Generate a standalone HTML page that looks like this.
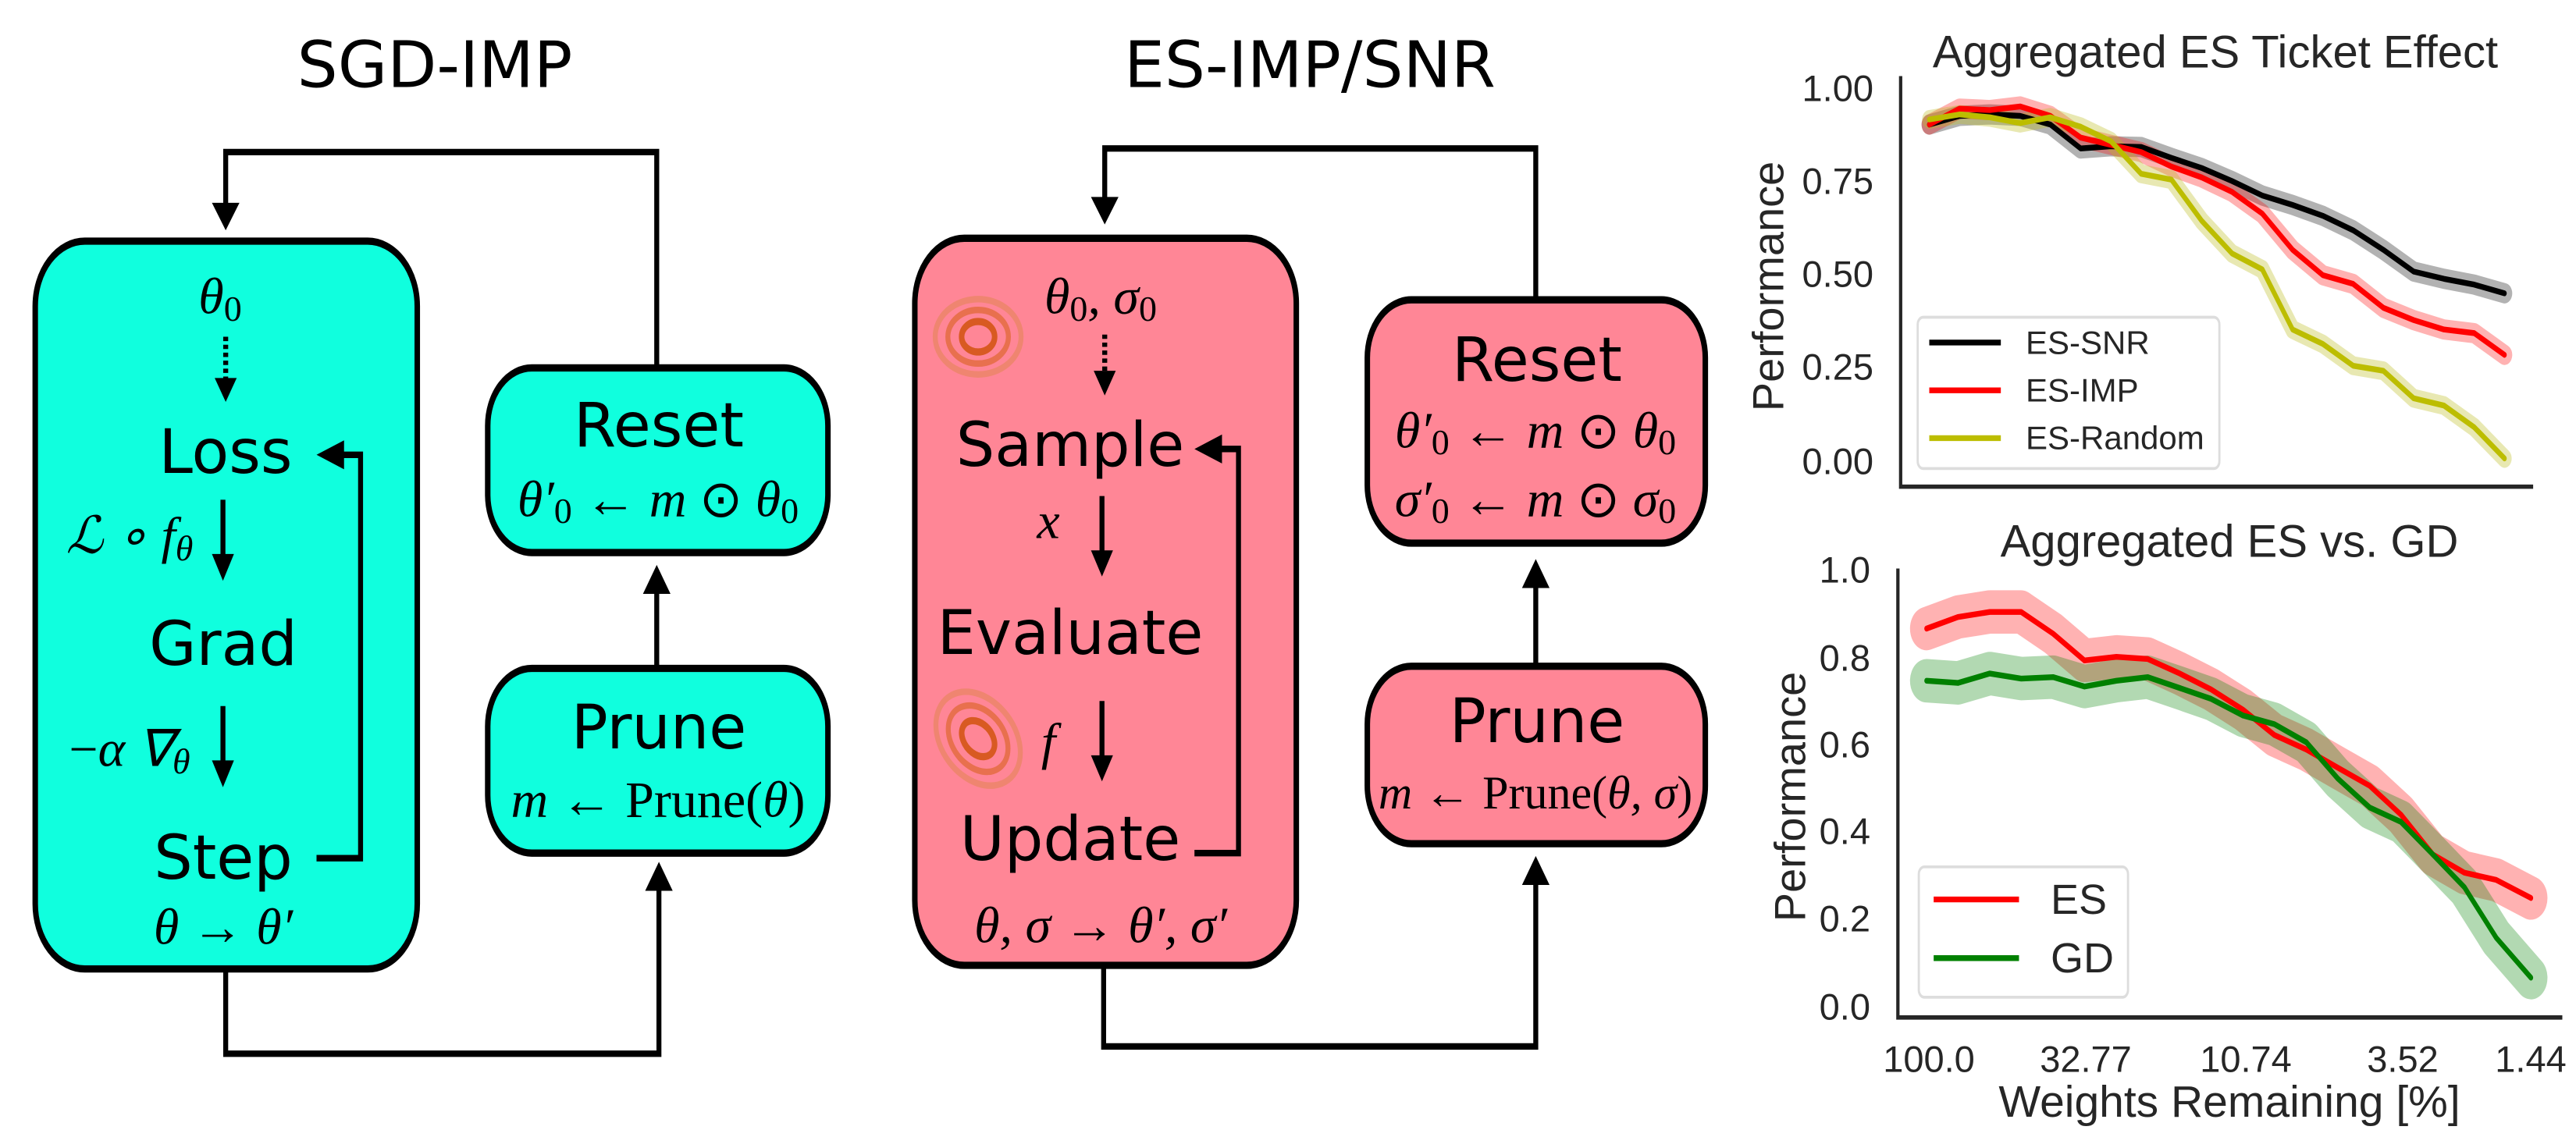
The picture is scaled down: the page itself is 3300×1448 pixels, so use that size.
<!DOCTYPE html>
<html><head><meta charset="utf-8"><style>html,body{margin:0;padding:0;background:#fff}svg{display:block}</style></head>
<body>
<svg width="3300" height="1448" viewBox="0 0 3300 1448" xmlns="http://www.w3.org/2000/svg">
<!-- LEFT PANEL shapes -->
<g transform="scale(0.7052,0.928)">
<rect x="64" y="333" width="694" height="1005" rx="90" fill="#10ffde" stroke="#000" stroke-width="10"/>
<rect x="886" y="508" width="618" height="255" rx="80" fill="#10ffde" stroke="#000" stroke-width="10"/>
<rect x="886" y="923" width="618" height="255" rx="80" fill="#10ffde" stroke="#000" stroke-width="10"/>
<g fill="none" stroke="#000" stroke-width="9">
<polyline points="1193,508 1193,210 410,210 410,285"/>
<polyline points="410,1340 410,1455 1197,1455 1197,1230"/>
<line x1="1193" y1="923" x2="1193" y2="815"/>
<polyline points="575,1185 655,1185 655,628 620,628"/>
<line x1="410" y1="465" x2="410" y2="525" stroke-dasharray="6,5"/>
<line x1="405" y1="690" x2="405" y2="770"/>
<line x1="405" y1="975" x2="405" y2="1055"/>
</g>
<g fill="#000">
<path d="M385,280 L435,280 L410,318 z"/>
<path d="M390,522 L430,522 L410,555 z"/>
<path d="M385,765 L425,765 L405,802 z"/>
<path d="M385,1050 L425,1050 L405,1087 z"/>
<path d="M625,608 L625,648 L575,628 z"/>
<path d="M1168,820 L1218,820 L1193,780 z"/>
<path d="M1172,1230 L1222,1230 L1197,1190 z"/>
</g>
</g>
<!-- MIDDLE PANEL shapes -->
<g transform="translate(1100,0) scale(0.7052,0.928)">
<rect x="102" y="329" width="693" height="1004" rx="90" fill="#ff8696" stroke="#000" stroke-width="10"/>
<rect x="924" y="414" width="614" height="336" rx="80" fill="#ff8696" stroke="#000" stroke-width="10"/>
<rect x="924" y="920" width="614" height="245" rx="80" fill="#ff8696" stroke="#000" stroke-width="10"/>
<g fill="none" stroke="#000" stroke-width="9">
<polyline points="1230,414 1230,205 447,205 447,275"/>
<polyline points="445,1335 445,1445 1230,1445 1230,1220"/>
<line x1="1230" y1="920" x2="1230" y2="810"/>
<polyline points="610,1178 690,1178 690,620 655,620"/>
<line x1="447" y1="462" x2="447" y2="515" stroke-dasharray="6,5"/>
<line x1="442" y1="685" x2="442" y2="765"/>
<line x1="442" y1="968" x2="442" y2="1048"/>
</g>
<g fill="#000">
<path d="M422,272 L472,272 L447,310 z"/>
<path d="M427,512 L467,512 L447,546 z"/>
<path d="M422,760 L462,760 L442,796 z"/>
<path d="M422,1043 L462,1043 L442,1079 z"/>
<path d="M660,600 L660,640 L610,620 z"/>
<path d="M1205,812 L1255,812 L1230,772 z"/>
<path d="M1205,1222 L1255,1222 L1230,1182 z"/>
</g>
<g fill="none">
<g transform="translate(217,465)">
<ellipse rx="78" ry="52" stroke="#ef8570" stroke-width="9"/>
<ellipse rx="55" ry="37" stroke="#e8704e" stroke-width="9"/>
<ellipse rx="30" ry="21" stroke="#d85a22" stroke-width="10"/>
</g>
<g transform="translate(217,1020) rotate(30)">
<ellipse rx="82" ry="58" stroke="#ef8570" stroke-width="9"/>
<ellipse rx="58" ry="41" stroke="#e8704e" stroke-width="9"/>
<ellipse rx="32" ry="22" stroke="#d85a22" stroke-width="10"/>
</g>
</g>
</g>
<!-- PLOTS shapes -->
<g transform="translate(2200,0) scale(0.7052,0.928)">
<g fill="none" stroke-linejoin="round" stroke-linecap="round">
<polyline stroke="#000" stroke-opacity="0.3" stroke-width="28" points="385,172 440,160 495,158 550,160 605,172 660,205 715,202 770,203 825,218 880,232 935,250 990,270 1045,283 1100,298 1155,318 1210,345 1265,375 1320,385 1375,393 1430,405"/>
<polyline stroke="#ff0000" stroke-opacity="0.3" stroke-width="28" points="385,172 440,150 495,152 550,147 605,160 660,190 715,200 770,210 825,230 880,245 935,265 990,295 1045,345 1100,380 1155,392 1210,425 1265,442 1320,455 1375,460 1430,490"/>
<polyline stroke="#bcbd22" stroke-opacity="0.35" stroke-width="26" points="385,165 440,158 495,162 550,170 605,162 660,175 715,195 770,240 825,248 880,305 935,350 990,372 1045,455 1100,475 1155,505 1210,512 1265,550 1320,560 1375,590 1430,633"/>
<polyline stroke="#000" stroke-width="8" points="385,172 440,160 495,158 550,160 605,172 660,205 715,202 770,203 825,218 880,232 935,250 990,270 1045,283 1100,298 1155,318 1210,345 1265,375 1320,385 1375,393 1430,405"/>
<polyline stroke="#ff0000" stroke-width="8" points="385,172 440,150 495,152 550,147 605,160 660,190 715,200 770,210 825,230 880,245 935,265 990,295 1045,345 1100,380 1155,392 1210,425 1265,442 1320,455 1375,460 1430,490"/>
<polyline stroke="#bcbd00" stroke-width="8" points="385,165 440,158 495,162 550,170 605,162 660,175 715,195 770,240 825,248 880,305 935,350 990,372 1045,455 1100,475 1155,505 1210,512 1265,550 1320,560 1375,590 1430,633"/>
</g>
<polyline fill="none" stroke="#262626" stroke-width="6" points="333,105 333,672 1482,672"/>
<rect x="364" y="438" width="548" height="209" rx="10" fill="#fff" fill-opacity="0.8" stroke="#ddd" stroke-width="4"/>
<line x1="385" y1="473" x2="515" y2="473" stroke="#000" stroke-width="8"/>
<line x1="385" y1="539" x2="515" y2="539" stroke="#ff0000" stroke-width="8"/>
<line x1="385" y1="605" x2="515" y2="605" stroke="#bcbd00" stroke-width="8"/>
<g fill="none" stroke-linejoin="round" stroke-linecap="round">
<polyline stroke="#ff0000" stroke-opacity="0.3" stroke-width="60" points="380,868 437,852 495,845 552,845 610,875 667,912 725,907 782,910 840,930 897,952 955,980 1012,1015 1070,1035 1127,1060 1185,1085 1242,1125 1300,1180 1357,1205 1415,1215 1478,1240"/>
<polyline stroke="#008000" stroke-opacity="0.3" stroke-width="60" points="380,940 437,943 495,930 552,937 610,935 667,948 725,940 782,935 840,950 897,965 955,988 1012,1000 1070,1025 1127,1075 1185,1115 1242,1135 1300,1180 1357,1225 1415,1295 1478,1350"/>
<polyline stroke="#ff0000" stroke-width="8" points="380,868 437,852 495,845 552,845 610,875 667,912 725,907 782,910 840,930 897,952 955,980 1012,1015 1070,1035 1127,1060 1185,1085 1242,1125 1300,1180 1357,1205 1415,1215 1478,1240"/>
<polyline stroke="#008000" stroke-width="8" points="380,940 437,943 495,930 552,937 610,935 667,948 725,940 782,935 840,950 897,965 955,988 1012,1000 1070,1025 1127,1075 1185,1115 1242,1135 1300,1180 1357,1225 1415,1295 1478,1350"/>
</g>
<polyline fill="none" stroke="#262626" stroke-width="6" points="328,785 328,1405 1535,1405"/>
<rect x="366" y="1197" width="380" height="180" rx="10" fill="#fff" fill-opacity="0.8" stroke="#ddd" stroke-width="4"/>
<line x1="393" y1="1242" x2="548" y2="1242" stroke="#ff0000" stroke-width="8"/>
<line x1="393" y1="1323" x2="548" y2="1323" stroke="#008000" stroke-width="8"/>
</g>

<!-- TEXT (real coordinates) -->
<g font-family="'DejaVu Sans','Liberation Sans',sans-serif" text-anchor="middle" dominant-baseline="central">
<text x="557" y="84" font-size="82">SGD-IMP</text>
<text x="1678" y="84" font-size="82">ES-IMP/SNR</text>
<g font-size="78">
<text x="289" y="580">Loss</text>
<text x="286" y="826">Grad</text>
<text x="286" y="1100">Step</text>
<text x="844" y="546">Reset</text>
<text x="844" y="933">Prune</text>
<text x="1371" y="571">Sample</text>
<text x="1371" y="812">Evaluate</text>
<text x="1371" y="1076">Update</text>
<text x="1969" y="462">Reset</text>
<text x="1969" y="925">Prune</text>
</g>
</g>
<g font-family="'Liberation Serif',serif" font-style="italic" font-size="66" text-anchor="middle" dominant-baseline="central">
<text x="282" y="380">θ<tspan font-size="46" font-style="normal" dy="15">0</tspan></text>
<text x="166" y="687">ℒ ∘ f<tspan font-size="46" dy="15">θ</tspan></text>
<text x="166" y="960"><tspan font-style="normal">−</tspan>α ∇<tspan font-size="46" dy="15">θ</tspan></text>
<text x="286" y="1188">θ <tspan font-style="normal">→</tspan> θ′</text>
<text x="843" y="640">θ′<tspan font-size="46" font-style="normal" dy="14">0</tspan><tspan dy="-14" font-style="normal"> ← </tspan>m <tspan font-style="normal">⊙</tspan> θ<tspan font-size="46" font-style="normal" dy="14">0</tspan></text>
<text x="843" y="1025">m <tspan font-style="normal">← Prune(</tspan>θ<tspan font-style="normal">)</tspan></text>
<text x="1410" y="380">θ<tspan font-size="46" font-style="normal" dy="15">0</tspan><tspan dy="-15">, σ</tspan><tspan font-size="46" font-style="normal" dy="15">0</tspan></text>
<text x="1343" y="668">x</text>
<text x="1343" y="951">f</text>
<text x="1410" y="1186">θ, σ <tspan font-style="normal">→</tspan> θ′, σ′</text>
<text x="1967" y="552">θ′<tspan font-size="46" font-style="normal" dy="14">0</tspan><tspan dy="-14" font-style="normal"> ← </tspan>m <tspan font-style="normal">⊙</tspan> θ<tspan font-size="46" font-style="normal" dy="14">0</tspan></text>
<text x="1967" y="640">σ′<tspan font-size="46" font-style="normal" dy="14">0</tspan><tspan dy="-14" font-style="normal"> ← </tspan>m <tspan font-style="normal">⊙</tspan> σ<tspan font-size="46" font-style="normal" dy="14">0</tspan></text>
<text x="1967" y="1016" font-size="60">m <tspan font-style="normal">← Prune(</tspan>θ, σ<tspan font-style="normal">)</tspan></text>
</g>
<g font-family="'Liberation Sans','DejaVu Sans',sans-serif" fill="#262626" dominant-baseline="central">
<text x="2838" y="67" font-size="58" text-anchor="middle">Aggregated ES Ticket Effect</text>
<text x="2856" y="694" font-size="58" text-anchor="middle">Aggregated ES vs. GD</text>
<g font-size="47" text-anchor="end">
<text x="2400" y="113">1.00</text><text x="2400" y="232">0.75</text><text x="2400" y="351">0.50</text><text x="2400" y="470">0.25</text><text x="2400" y="591">0.00</text>
<text x="2396" y="730">1.0</text><text x="2396" y="843">0.8</text><text x="2396" y="954">0.6</text><text x="2396" y="1065">0.4</text><text x="2396" y="1177">0.2</text><text x="2396" y="1290">0.0</text>
</g>
<text transform="translate(2265,367) rotate(-90)" font-size="56" text-anchor="middle">Performance</text>
<text transform="translate(2293,1021) rotate(-90)" font-size="56" text-anchor="middle">Performance</text>
<g font-size="42">
<text x="2595" y="439">ES-SNR</text><text x="2595" y="500">ES-IMP</text><text x="2595" y="561">ES-Random</text>
</g>
<g font-size="54">
<text x="2627" y="1153">ES</text><text x="2627" y="1228">GD</text>
</g>
<g font-size="47" text-anchor="middle">
<text x="2471" y="1357">100.0</text><text x="2672" y="1357">32.77</text><text x="2877" y="1357">10.74</text><text x="3078" y="1357">3.52</text><text x="3242" y="1357">1.44</text>
</g>
<text x="2856" y="1412" font-size="57" text-anchor="middle">Weights Remaining [%]</text>
</g>
</svg>
</body></html>
